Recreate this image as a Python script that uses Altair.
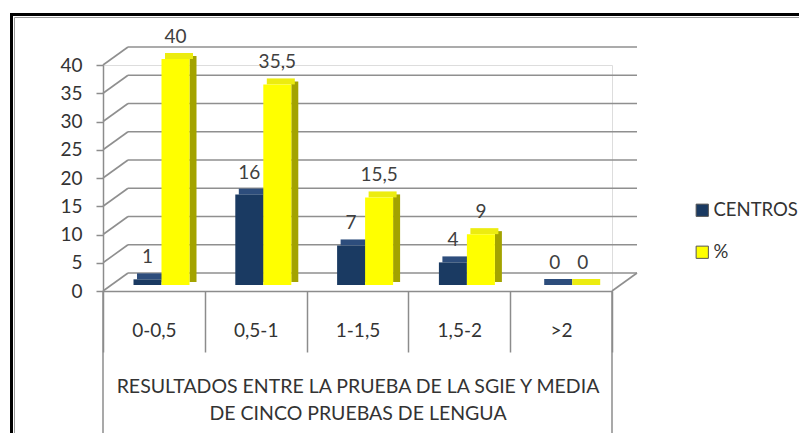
import altair as alt
import pandas as pd

categories = ["0-0,5", "0,5-1", "1-1,5", "1,5-2", ">2"]
series = ["CENTROS", "%"]
centros = [1, 16, 7, 4, 0]
pct = [40, 35.5, 15.5, 9, 0]
y_ticks = [0, 5, 10, 15, 20, 25, 30, 35, 40]
x_title = ["RESULTADOS ENTRE LA PRUEBA DE LA SGIE Y  MEDIA", "DE CINCO PRUEBAS DE LENGUA"]

rows = []
for c, a, b in zip(categories, centros, pct):
    rows.append({"cat": c, "serie": "CENTROS", "v": a})
    rows.append({"cat": c, "serie": "%", "v": b})
df = pd.DataFrame(rows)
grid_df = pd.DataFrame({"v": y_ticks})
edge_df = pd.DataFrame({"v": [0]})

FONT = "Lato"
W, H = 509, 226
DX, DY = 25, -18      # depth of the 3D box
BY = -6               # depth plane of the bars
F0 = 30.5             # left edge of first bar inside a category band
BW = 28               # bar width
SD = 7                # side depth in px

xs = alt.X("cat:N", sort=categories,
           scale=alt.Scale(paddingInner=0, paddingOuter=0),
           axis=alt.Axis(title=x_title, tickBand="extent", tickSize=61, tickColor="#8c8c8c",
                         tickWidth=1.5, domainColor="#8c8c8c", domainWidth=1.5,
                         labelAngle=0, labelFont=FONT, labelFontSize=19, labelColor="#333333",
                         labelPadding=-31, titleFont=FONT, titleFontSize=19.5,
                         titleFontWeight="normal", titleColor="#333333", titleLineHeight=27,
                         titlePadding=25))


def xo(start, end, pi=0.0, point=False):
    if point:
        sc = alt.Scale(type="point", range=[start, end], padding=0)
    else:
        sc = alt.Scale(range=[start, end], paddingInner=pi, paddingOuter=0)
    return alt.XOffset("serie:N", sort=series, scale=sc)


y_scale = alt.Scale(domain=[0, 40], nice=False)
y_axis = alt.Axis(values=y_ticks, title=None, grid=False, tickSize=7, labelOverlap=False,
                  tickColor="#8c8c8c", tickWidth=1.5, domainColor="#8c8c8c",
                  domainWidth=1.5, labelFont=FONT, labelFontSize=19,
                  labelColor="#333333", labelPadding=14)
ys = alt.Y("v:Q", scale=y_scale, axis=y_axis)

base = alt.Chart(df)

# back-wall gridlines and their diagonals
grid_h = alt.Chart(grid_df).mark_rule(color="#8f8f8f", strokeWidth=1.6, yOffset=DY).encode(
    y=ys, x=alt.value(DX), x2=alt.value(W + DX))
grid_d = alt.Chart(grid_df).mark_rule(color="#8f8f8f", strokeWidth=1.6, y2Offset=DY).encode(
    y=ys, y2="v:Q", x=alt.value(0), x2=alt.value(DX))
floor_r = alt.Chart(edge_df).mark_rule(color="#8f8f8f", strokeWidth=1.6, y2Offset=DY).encode(
    y=ys, y2="v:Q", x=alt.value(W), x2=alt.value(W + DX))
outer = alt.Chart(edge_df).mark_rule(color="#8c8c8c", strokeWidth=1.5).encode(
    x=alt.value(0), y=alt.value(H), y2=alt.value(H + 160))
outer_r = alt.Chart(edge_df).mark_rule(color="#8c8c8c", strokeWidth=1.5).encode(
    x=alt.value(W), y=alt.value(H), y2=alt.value(H + 160))

side = base.mark_bar(yOffset=BY - 3, y2Offset=BY - 3).encode(
    x=xs, xOffset=xo(F0 + BW, F0 + BW + BW + SD, pi=1 - SD / BW), y=ys, y2=alt.datum(0),
    color=alt.Color("serie:N", sort=series,
                    scale=alt.Scale(domain=series, range=["#0f2340", "#a3a300"]), legend=None))
top = base.mark_bar(yOffset=BY - 6, y2Offset=BY).encode(
    x=xs, xOffset=xo(F0 + SD / 2, F0 + SD / 2 + 2 * BW), y=ys, y2="v:Q",
    color=alt.Color("serie:N", sort=series,
                    scale=alt.Scale(domain=series, range=["#2d4d7c", "#ecec10"]), legend=None))
front = base.mark_bar(yOffset=BY, y2Offset=BY).encode(
    x=xs, xOffset=xo(F0, F0 + 2 * BW), y=ys,
    color=alt.Color("serie:N", sort=series,
                    scale=alt.Scale(domain=series, range=["#1a3a62", "#ffff00"]),
                    legend=alt.Legend(title=None, orient="none", legendX=590, legendY=136,
                                      symbolType="square", symbolSize=150,
                                      symbolStrokeColor="#555555", symbolStrokeWidth=1,
                                      labelFont=FONT, labelFontSize=18.5, labelColor="#333333",
                                      rowPadding=23, padding=0, labelOffset=2)))
labels = base.transform_calculate(
    lab="replace(toString(datum.v), '.', ',')"
).mark_text(font=FONT, fontSize=19, color="#404040", yOffset=-28).encode(
    x=xs, xOffset=xo(F0 + BW / 2, F0 + 1.5 * BW, point=True), y=ys, text="lab:N")

frame = alt.Chart(edge_df).mark_rect(fill=None, stroke="#000000", strokeWidth=3).encode(
    x=alt.value(-91.5), y=alt.value(-50.5), x2=alt.value(800), y2=alt.value(500))
frame2 = alt.Chart(edge_df).mark_rect(fill=None, stroke="#9a9a9a", strokeWidth=1).encode(
    x=alt.value(-88.5), y=alt.value(-47.5), x2=alt.value(800), y2=alt.value(500))

chart = alt.layer(
    frame, frame2, grid_h, grid_d, floor_r, outer, outer_r, side, top, front, labels
).resolve_scale(color="independent", xOffset="independent").properties(
    width=W, height=H,
    autosize=alt.AutoSizeParams(type="none"),
    padding={"left": 95, "top": 57, "right": 187, "bottom": 142},
).configure_view(stroke=None).configure(background="white")

chart.save("out.html", embed_options={"renderer": "svg", "actions": False})
